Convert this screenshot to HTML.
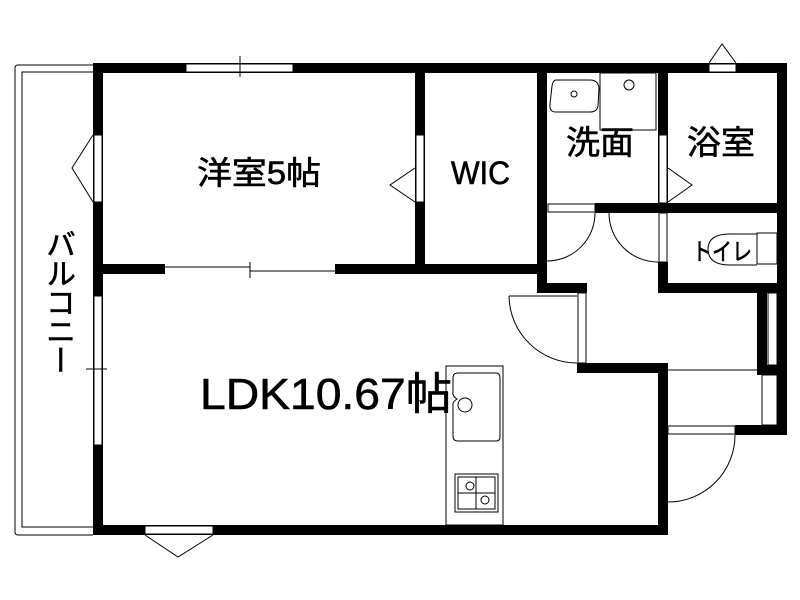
<!DOCTYPE html>
<html><head><meta charset="utf-8"><style>
html,body{margin:0;padding:0;background:#fff;width:800px;height:600px;overflow:hidden}
svg{position:absolute;left:0;top:0}
.t{font-family:"Liberation Sans","Noto Sans CJK JP",sans-serif;fill:#000;stroke:#000;stroke-width:0.6}
#balc{position:absolute;left:41px;top:229px;writing-mode:vertical-rl;font-family:"Liberation Sans","Noto Sans CJK JP",sans-serif;font-size:30px;letter-spacing:-1px;line-height:32px;width:32px;-webkit-text-stroke:0.6px #000}
</style></head><body>
<svg width="800" height="600" viewBox="0 0 800 600">
<g fill="none" stroke="#000" stroke-width="1">
<path d="M93 65 H18 Q15 65 15 68 V532 Q15 535 18 535 H93"/>
<path d="M93 72 H22 V527 H93"/>
</g>
<g fill="#000">
<rect x="93" y="63" width="694" height="10"/>
<rect x="93" y="63" width="10" height="472"/>
<rect x="93" y="525" width="575" height="10"/>
<rect x="777" y="63" width="10" height="372"/>
<rect x="103" y="264" width="62" height="10"/>
<rect x="335" y="264" width="212" height="10"/>
<rect x="415" y="73" width="10" height="201"/>
<rect x="537" y="73" width="10" height="220"/>
<rect x="537" y="283" width="50" height="10"/>
<rect x="577" y="363" width="91" height="10"/>
<rect x="658" y="363" width="10" height="172"/>
<rect x="658" y="73" width="10" height="140"/>
<rect x="595" y="203" width="192" height="10"/>
<rect x="658" y="262" width="10" height="31"/>
<rect x="658" y="283" width="129" height="10"/>
<rect x="757" y="293" width="10" height="82"/>
<rect x="757" y="365" width="30" height="10"/>
<rect x="735" y="425" width="52" height="10"/>
</g>
<g fill="#fff" stroke="#000" stroke-width="1">
<rect x="186" y="64" width="107" height="8"/>
<rect x="94" y="135" width="8" height="67"/>
<rect x="94" y="296" width="8" height="149"/>
<rect x="145" y="526" width="68" height="8"/>
<rect x="416" y="135" width="8" height="67"/>
<rect x="659" y="135" width="8" height="68"/>
<rect x="709" y="64" width="27" height="8"/>
<rect x="548" y="204" width="47" height="8"/>
<rect x="659" y="213" width="8" height="49"/>
<rect x="578" y="293" width="8" height="70"/>
<rect x="768" y="293" width="9" height="72"/>
<rect x="668" y="426" width="67" height="8"/>
<rect x="762" y="375" width="15" height="50"/>
</g>
<g fill="none" stroke="#000" stroke-width="1">
<line x1="240" y1="56" x2="240" y2="77"/>
<line x1="86" y1="369" x2="107" y2="369"/>
<line x1="165" y1="267" x2="250" y2="267"/>
<line x1="250" y1="271" x2="335" y2="271"/>
<line x1="250" y1="262" x2="250" y2="278"/>
<polyline points="93,135 72,168 93,202"/>
<polyline points="415,168 390,185 415,202"/>
<polyline points="668,168 692,185 668,202"/>
<polyline points="709,63 722,44 736,63"/>
<polyline points="145,535 178,557 213,535"/>
<path d="M595 213 A48 48 0 0 1 547 261"/>
<path d="M609 213 A49 49 0 0 0 658 262"/>
<line x1="509" y1="296" x2="577" y2="296"/>
<path d="M509 296 A68 68 0 0 0 577 363"/>
<path d="M735 435 A67 67 0 0 1 668 502"/>
<line x1="668" y1="370" x2="757" y2="370"/>
<rect x="600" y="73" width="56" height="57"/>
<circle cx="629" cy="85" r="5"/>
<path d="M556 80 H590 Q598 80 599 88 L598 106 Q597 112 590 112 H556 Q549 112 550 104 L552 86 Q553 80 556 80 Z"/>
<circle cx="574" cy="94" r="3"/>
<path d="M757 234 H730 Q708 234 708 249 Q708 265 730 265 H757"/>
<rect x="757" y="233" width="20" height="31"/>
<rect x="446" y="366" width="57" height="159"/>
<path d="M458 373 H496 Q500 373 500 378 V437 Q500 441 496 441 H458 Q453 441 453 436 V406 Q452 402 457 399 Q452 396 453 392 V378 Q453 373 458 373 Z"/>
<circle cx="465" cy="405" r="7"/>
<rect x="455" y="474" width="43" height="38"/>
<rect x="458" y="477" width="37" height="32"/>
<line x1="476" y1="477" x2="476" y2="509"/>
<line x1="458" y1="493" x2="495" y2="493"/>
<circle cx="470" cy="486" r="4"/>
<circle cx="485" cy="500" r="4"/>
</g>
<text class="t" x="197" y="184" font-size="32" textLength="124" lengthAdjust="spacingAndGlyphs">洋室5帖</text>
<text class="t" x="451" y="184" font-size="32" textLength="59" lengthAdjust="spacingAndGlyphs">WIC</text>
<text class="t" x="566" y="154" font-size="33" textLength="68" lengthAdjust="spacingAndGlyphs">洗面</text>
<text class="t" x="687" y="154" font-size="33" textLength="68" lengthAdjust="spacingAndGlyphs">浴室</text>
<text class="t" x="692" y="260" font-size="24" textLength="60" lengthAdjust="spacingAndGlyphs">トイレ</text>
<text class="t" x="200" y="409" font-size="44" textLength="252" lengthAdjust="spacingAndGlyphs">LDK10.67帖</text>
</svg>
<div id="balc">バルコニー</div>
</body></html>
